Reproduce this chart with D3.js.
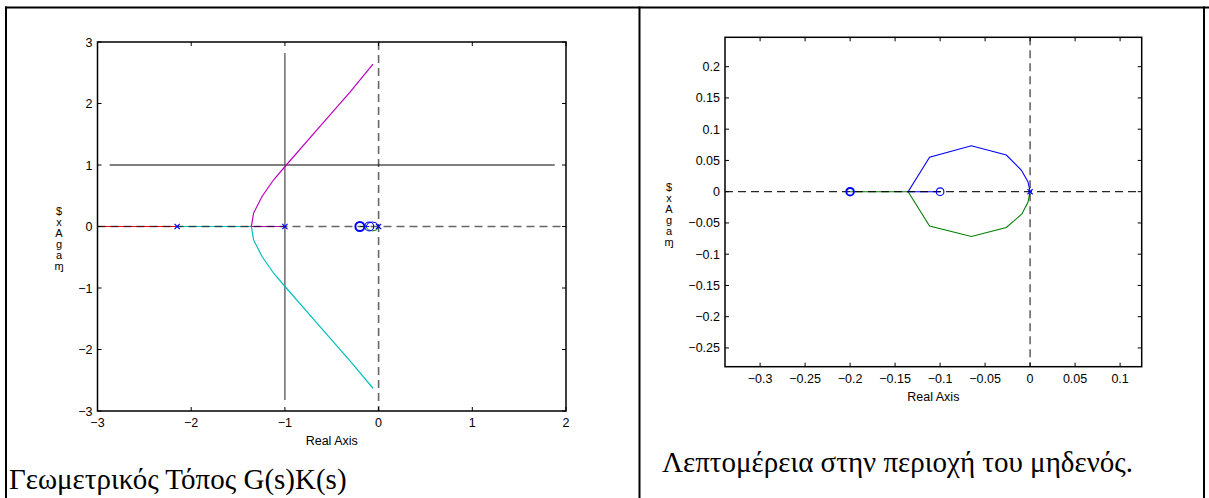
<!DOCTYPE html>
<html><head><meta charset="utf-8">
<script src="https://cdn.jsdelivr.net/npm/d3@7"></script>
<style>html,body{margin:0;padding:0;background:#fff;overflow:hidden}</style>
</head><body>
<svg id="c" width="1209" height="498"></svg>
<script>
// ---------- data ----------
const leftXTicks = [-3, -2, -1, 0, 1, 2];
const leftYTicks = [-3, -2, -1, 0, 1, 2, 3];
const leftPoles = [-2.15, -1, 0];
const leftZeros = [-0.2, -0.1];
const redBranch = [[-3, 0], [-2.15, 0]];
const cyanBranch = [[-2.15, 0], [-1.358, 0], [-1.334, -0.218], [-1.244, -0.488], [-1.12, -0.76], [-0.985, -1.0], [-0.658, -1.57], [-0.303, -2.19], [-0.06, -2.63]];
const magentaBranch = [[-1, 0], [-1.358, 0], [-1.334, 0.218], [-1.244, 0.488], [-1.12, 0.76], [-0.985, 1.0], [-0.658, 1.57], [-0.303, 2.19], [-0.06, 2.64]];
const gridH = [[-2.87, 1], [1.88, 1]];
const gridV = [[-1, 2.82], [-1, -2.82]];

const rightXTicks = [-0.3, -0.25, -0.2, -0.15, -0.1, -0.05, 0, 0.05, 0.1];
const rightYTicks = [-0.25, -0.2, -0.15, -0.1, -0.05, 0, 0.05, 0.1, 0.15, 0.2];
const blueLoop = [[-0.1, 0], [-0.1355, 0], [-0.1117, 0.055], [-0.0653, 0.0735], [-0.0264, 0.0587], [-0.0098, 0.0347], [-0.0024, 0.016], [0, 0]];
const greenLoop = [[-0.2, 0], [-0.1355, 0], [-0.1117, -0.055], [-0.0653, -0.0717], [-0.0264, -0.0573], [-0.0091, -0.0357], [-0.0024, -0.017], [0, 0]];
const rightPoles = [0];
const rightZeros = [-0.2, -0.1];

const xLabel = "Real Axis";
const yLabelText = "$xAgaɱ";   // garbled vertical "Imag Axis" as it appears in the picture
const captionLeft = "Γεωμετρικός Τόπος G(s)K(s)";
const captionRight = "Λεπτομέρεια στην περιοχή του μηδενός.";

// ---------- drawing ----------
const svg = d3.select("#c");
const C = {blue:"#0000ff", green:"#008000", red:"#ff0000", cyan:"#00bfbf", magenta:"#bf00bf"};

// outer table frame
const frame = svg.append("g").attr("stroke", "#000").attr("stroke-width", 2);
frame.append("line").attr("x1", 5).attr("x2", 1209).attr("y1", 7.5).attr("y2", 7.5);
frame.append("line").attr("x1", 6).attr("x2", 6).attr("y1", 6.5).attr("y2", 498);
frame.append("line").attr("x1", 639.5).attr("x2", 639.5).attr("y1", 6.5).attr("y2", 498);
frame.append("line").attr("x1", 1204).attr("x2", 1204).attr("y1", 6.5).attr("y2", 498);

function axesBox(g, x, y, xt, yt, fmt, id) {
  const [x0, x1] = x.range(), [y0, y1] = y.range();
  g.append("clipPath").attr("id", id).append("rect")
    .attr("x", x0).attr("y", y1).attr("width", x1 - x0).attr("height", y0 - y1);
  const tl = 4;
  const ax = g.append("g").attr("stroke", "#000").attr("stroke-width", 1);
  xt.forEach(v => {
    ax.append("line").attr("x1", x(v)).attr("x2", x(v)).attr("y1", y0).attr("y2", y0 - tl);
    ax.append("line").attr("x1", x(v)).attr("x2", x(v)).attr("y1", y1).attr("y2", y1 + tl);
  });
  yt.forEach(v => {
    ax.append("line").attr("x1", x0).attr("x2", x0 + tl).attr("y1", y(v)).attr("y2", y(v));
    ax.append("line").attr("x1", x1).attr("x2", x1 - tl).attr("y1", y(v)).attr("y2", y(v));
  });
  g.append("rect").attr("x", x0).attr("y", y1).attr("width", x1 - x0).attr("height", y0 - y1)
    .attr("fill", "none").attr("stroke", "#000").attr("stroke-width", 1.5);
  const tf = g.append("g").attr("font-family", "Liberation Sans, Arial, sans-serif").attr("font-size", 12.5).attr("fill", "#000");
  xt.forEach(v => tf.append("text").attr("x", x(v)).attr("y", y0 + 16).attr("text-anchor", "middle").text(fmt(v)));
  yt.forEach(v => tf.append("text").attr("x", x0 - 5).attr("y", y(v) + 4.5).attr("text-anchor", "end").text(fmt(v)));
  tf.append("text").attr("x", (x0 + x1) / 2).attr("y", y0 + 34).attr("text-anchor", "middle").text(xLabel);
}

// stacked upright glyphs in a single vertical text
function yLabel(g, cx, cy) {
  g.append("text").attr("x", cx).attr("y", cy)
    .attr("font-family", "Liberation Sans, DejaVu Sans, Arial, sans-serif").attr("font-size", 11)
    .attr("fill", "#000").attr("text-anchor", "middle")
    .style("writing-mode", "vertical-rl").style("text-orientation", "upright")
    .style("letter-spacing", "-1px")
    .text(yLabelText);
}

function markers(g, x, y, poles, zeros, r, boldFirst) {
  zeros.forEach((v, i) => g.append("circle").attr("cx", x(v)).attr("cy", y(0)).attr("r", r)
    .attr("fill", "none").attr("stroke", C.blue).attr("stroke-width", (boldFirst && i === 0) ? 2 : 1.2));
  poles.forEach(v => {
    const s = 2.6;
    g.append("path").attr("d", `M${x(v)-s},${y(0)-s}L${x(v)+s},${y(0)+s}M${x(v)-s},${y(0)+s}L${x(v)+s},${y(0)-s}`)
      .attr("stroke", C.blue).attr("stroke-width", 1.2).attr("fill", "none");
  });
}

// ---------- left plot ----------
{
  const x = d3.scaleLinear().domain([-3, 2]).range([97.5, 566]);
  const y = d3.scaleLinear().domain([-3, 3]).range([411, 42]);
  const g = svg.append("g");
  const line = d3.line().x(d => x(d[0])).y(d => y(d[1]));
  const p = g.append("g").attr("clip-path", "url(#clipL)");
  axesBox(g, x, y, leftXTicks, leftYTicks, d3.format("d"), "clipL");
  p.append("path").attr("d", line(gridH)).attr("stroke", "#555").attr("stroke-width", 1.3).attr("fill", "none");
  p.append("path").attr("d", line(gridV)).attr("stroke", "#555").attr("stroke-width", 1.3).attr("fill", "none");
  p.append("path").attr("d", line(redBranch)).attr("stroke", C.red).attr("stroke-width", 1.2).attr("fill", "none");
  p.append("path").attr("d", line(cyanBranch)).attr("stroke", C.cyan).attr("stroke-width", 1.2).attr("fill", "none");
  p.append("path").attr("d", line(magentaBranch)).attr("stroke", C.magenta).attr("stroke-width", 1.2).attr("fill", "none");
  p.append("path").attr("d", line(blueLoop)).attr("stroke", C.blue).attr("stroke-width", 1).attr("fill", "none");
  p.append("path").attr("d", line(greenLoop)).attr("stroke", C.green).attr("stroke-width", 1).attr("fill", "none");
  p.append("path").attr("d", line([[-3, 0], [2, 0]])).attr("stroke", "#000").attr("stroke-opacity", 0.6)
    .attr("stroke-width", 1.6).attr("stroke-dasharray", "8,5").attr("fill", "none");
  p.append("path").attr("d", line([[0, 3], [0, -3]])).attr("stroke", "#000").attr("stroke-opacity", 0.6)
    .attr("stroke-width", 1.6).attr("stroke-dasharray", "8,5").attr("fill", "none");
  markers(p, x, y, leftPoles, leftZeros, 4.5, true);
  yLabel(g, 59, 238);
}

// ---------- right plot ----------
{
  const x = d3.scaleLinear().domain([-0.339, 0.124]).range([725, 1141.7]);
  const y = d3.scaleLinear().domain([-0.28, 0.247]).range([366.7, 37.3]);
  const g = svg.append("g");
  const line = d3.line().x(d => x(d[0])).y(d => y(d[1]));
  const p = g.append("g").attr("clip-path", "url(#clipR)");
  axesBox(g, x, y, rightXTicks, rightYTicks, v => (Math.abs(v) < 1e-9 ? "0" : d3.format("")(+v.toFixed(2))), "clipR");
  p.append("path").attr("d", line(greenLoop)).attr("stroke", C.green).attr("stroke-width", 1.1).attr("fill", "none");
  p.append("path").attr("d", line(blueLoop)).attr("stroke", C.blue).attr("stroke-width", 1.1).attr("fill", "none");
  p.append("path").attr("d", line([[-0.339, 0], [0.124, 0]])).attr("stroke", "#000").attr("stroke-opacity", 0.85)
    .attr("stroke-width", 1.3).attr("stroke-dasharray", "8,5").attr("fill", "none");
  p.append("path").attr("d", line([[0, 0.247], [0, -0.28]])).attr("stroke", "#000").attr("stroke-opacity", 0.6)
    .attr("stroke-width", 1.6).attr("stroke-dasharray", "8,5").attr("fill", "none");
  markers(p, x, y, rightPoles, rightZeros, 3.8, true);
  yLabel(g, 669, 214);
}

// ---------- captions ----------
const cap = svg.append("g").attr("font-family", "Liberation Serif, Times New Roman, serif").attr("font-size", 29).attr("fill", "#000");
cap.append("text").attr("x", 9).attr("y", 489).text(captionLeft);
cap.append("text").attr("x", 662).attr("y", 472).text(captionRight);
</script>
</body></html>
